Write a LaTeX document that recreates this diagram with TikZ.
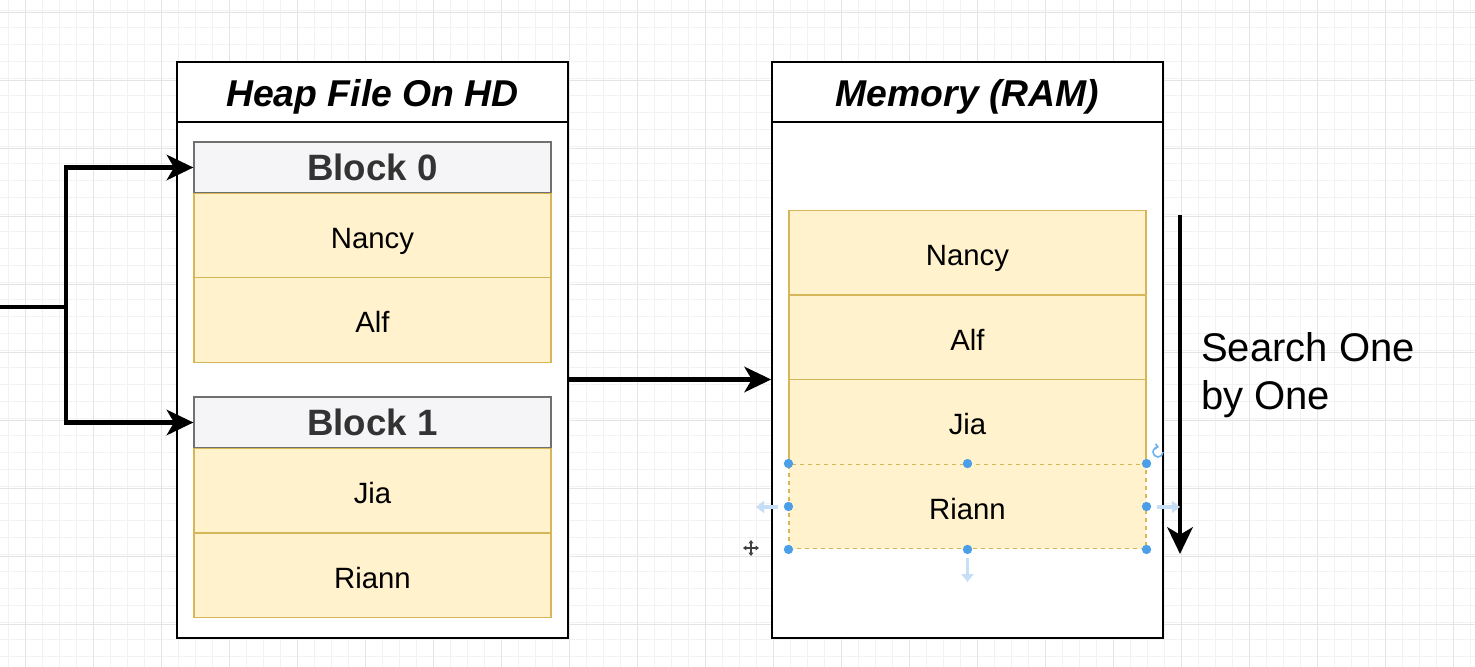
\documentclass[tikz,border=0pt]{standalone}
\usepackage{fontspec}
\setmainfont{Liberation Sans}
\usetikzlibrary{arrows.meta}
\definecolor{rowfill}{HTML}{FFF2CC}
\definecolor{rowline}{HTML}{D6B656}
\definecolor{hdrfill}{HTML}{F5F5F7}
\definecolor{hdrline}{HTML}{707070}
\definecolor{gridminor}{HTML}{F2F2F2}
\definecolor{gridmajor}{HTML}{E4E4E4}
\definecolor{handle}{HTML}{4A9FE8}
\definecolor{handlefaint}{HTML}{C6DFF7}
\begin{document}
\begin{tikzpicture}[x=0.75pt,y=-0.75pt,
  ctitle/.style={draw=black,line width=1.3pt,fill=white,minimum width=293.25pt,minimum height=45pt,inner sep=0pt,
     text height=21.5pt,text depth=0pt,font=\fontsize{28}{30}\selectfont\bfseries\itshape},
  cbody/.style={draw=black,line width=1.3pt,fill=white,minimum width=293.25pt,minimum height=387.75pt,inner sep=0pt},
  blockhdr/.style={draw=hdrline,line width=0.9pt,fill=hdrfill,minimum width=267.75pt,minimum height=38.25pt,inner sep=0pt,
     text height=20.2pt,text depth=0pt,text=black!80,font=\fontsize{27.5}{30}\selectfont\bfseries},
  rec/.style={draw=rowline,line width=0.8pt,fill=rowfill,minimum width=267.75pt,minimum height=63.6pt,inner sep=0pt,
     text height=19pt,text depth=0pt,font=\fontsize{22}{25}\selectfont},
  conn/.style={line width=3.4pt,-{Stealth[length=20pt,width=19pt,inset=5.5pt]}},
  hdot/.style={circle,fill=handle,inner sep=0pt,minimum size=7pt},
  faint/.style={draw=handlefaint,line width=2.5pt,-{Triangle[length=6pt,width=9pt]}}
]
\useasboundingbox (0,0) rectangle (1475,667);
\fill[white] (0,0) rectangle (1475,667);
% grid
\foreach \gx in {8,25,...,1475} \draw[gridminor,line width=0.6pt] (\gx,0) -- (\gx,667);
\foreach \gy in {10,27,...,667} \draw[gridminor,line width=0.6pt] (0,\gy) -- (1475,\gy);
\foreach \gx in {25,93,...,1475} \draw[gridmajor,line width=0.7pt] (\gx,0) -- (\gx,667);
\foreach \gy in {12,80,...,667} \draw[gridmajor,line width=0.7pt] (0,\gy) -- (1475,\gy);

% left container
\node[cbody] (lbody) at (372.5,379.5) {};
\node[ctitle] (ltitle) at (372.5,92) {Heap File On HD};
\node[blockhdr] (b0) at (372.5,167.5) {Block 0};
\node[rec] (l1) at (372.5,235.5) {Nancy};
\node[rec] (l2) at (372.5,320) {Alf};
\node[blockhdr] (b1) at (372.5,422.5) {Block 1};
\node[rec] (l3) at (372.5,490.5) {Jia};
\node[rec] (l4) at (372.5,575.5) {Riann};

% right container
\node[cbody] (rbody) at (967.5,379.5) {};
\node[ctitle] (rtitle) at (967.5,92) {Memory (RAM)};
\node[rec] (m1) at (967.5,252.5) {Nancy};
\node[rec] (m2) at (967.5,337.5) {Alf};
\node[rec] (m3) at (967.5,422) {Jia};
\node[rec,dashed] (m4) at (967.5,506.5) {Riann};

% connectors
\coordinate (src) at (0,307);
\coordinate (split) at (66,307);
\draw[line width=3.4pt] (src) -- (split);
\draw[conn] (split) |- (b0.west);
\draw[conn] (split) |- (b1.west);
\draw[conn] (lbody.east) -- (rbody.west);

\coordinate (s1) at (1180,215);
\coordinate (s2) at (1180,554);
\draw[conn] (s1) -- (s2);
\node[anchor=west,align=left,inner sep=0pt,font=\fontsize{30}{36}\selectfont] (search) at (1201,375) {Search One\\by One};

% selection handles on Riann (memory)
\foreach \a in {north west,north,north east,west,east,south west,south,south east}
  \node[hdot] at (m4.\a) {};
\draw[faint] (778,507) -- (756,507);
\draw[faint] (1157,507) -- (1180,507);
\draw[faint] (967.5,558) -- (967.5,582);
\draw[handle!80,line width=1.2pt,-{Straight Barb[length=2pt]}] (1163,452) arc (0:280:5);
\draw[black!75,line width=1pt,{Triangle[length=2.5pt,width=3.5pt]}-{Triangle[length=2.5pt,width=3.5pt]}] (743,548) -- (759,548);
\draw[black!75,line width=1pt,{Triangle[length=2.5pt,width=3.5pt]}-{Triangle[length=2.5pt,width=3.5pt]}] (751,540) -- (751,556);
\end{tikzpicture}
\end{document}
